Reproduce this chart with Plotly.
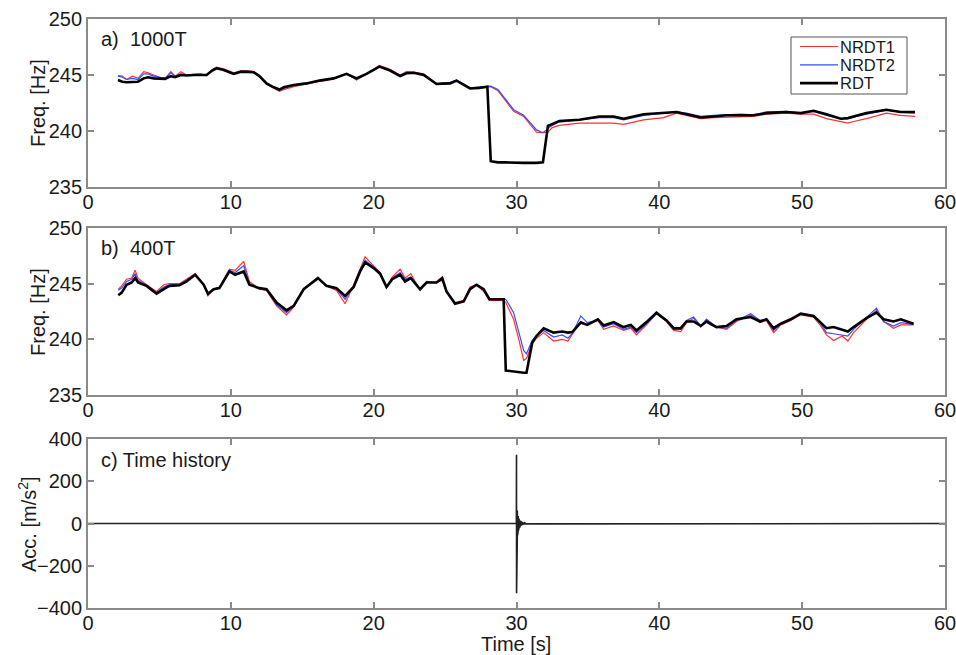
import plotly.graph_objects as go

# ---------------- data ----------------
series_names = ["NRDT1", "NRDT2", "RDT"]
series_colors = ["#ff3030", "#3050ff", "#000000"]
series_widths = [1.2, 1.2, 2.6]

# a) 1000T
t_a = [2.1, 2.4, 2.7, 3.1, 3.5, 3.9, 4.2, 4.6, 5.0, 5.4, 5.8, 6.1, 6.5, 6.9, 7.4, 7.9,
       8.3, 8.7, 9.0, 9.5, 10.0, 10.2, 10.7, 11.1, 11.6, 12.0, 12.5, 13.0, 13.4, 13.7,
       14.4, 15.3, 16.2, 17.2, 18.1, 18.8, 19.5, 20.4, 21.15, 21.85, 22.3, 22.8, 23.5,
       24.4, 25.35, 25.8, 26.75, 27.4, 27.96, 28.2, 28.7, 29.2, 29.8, 30.5, 31.4, 31.85,
       32.2, 32.5, 33.0, 34.4, 35.8, 36.8, 37.5, 38.9, 40.3, 41.2, 41.9, 42.9, 43.8,
       44.7, 45.7, 46.6, 47.5, 48.9, 49.9, 50.8, 51.7, 52.7, 53.2, 53.6, 54.5, 55.9,
       56.9, 57.9]
nrdt1_a = [244.95, 244.9, 244.6, 244.9, 244.7, 245.3, 245.2, 245.0, 244.8, 244.7, 245.3,
           244.9, 245.3, 245.0, 245.05, 245.1, 244.95, 245.5, 245.7, 245.55, 245.3, 245.2,
           245.35, 245.4, 245.3, 244.9, 244.2, 243.8, 243.55, 243.7, 243.95, 244.2, 244.4,
           244.65, 245.15, 244.55, 245.1, 245.85, 245.5, 245.0, 245.3, 245.25, 245.1,
           244.25, 244.35, 244.55, 243.85, 243.9, 243.9, 243.95, 243.6, 242.8, 241.75,
           241.3, 239.9, 239.85, 239.9, 240.3, 240.5, 240.7, 240.7, 240.7, 240.6, 241.0,
           241.2, 241.6, 241.4, 241.1, 241.2, 241.25, 241.3, 241.3, 241.5, 241.6, 241.5,
           241.5, 241.1, 240.8, 240.7, 240.85, 241.1, 241.6, 241.4, 241.3]
nrdt2_a = [244.9, 244.8, 244.6, 244.7, 244.6, 245.1, 245.1, 244.9, 244.8, 244.7, 245.2,
           244.9, 245.1, 245.0, 245.05, 245.05, 244.95, 245.45, 245.65, 245.5, 245.25,
           245.15, 245.3, 245.35, 245.3, 244.9, 244.2, 243.85, 243.6, 243.8, 244.05,
           244.25, 244.5, 244.7, 245.1, 244.6, 245.1, 245.8, 245.45, 244.95, 245.25, 245.2,
           245.05, 244.2, 244.35, 244.55, 243.85, 243.9, 243.95, 244.0, 243.7, 242.9,
           241.9, 241.4, 240.1, 239.85, 240.2, 240.5, 240.8, 241.0, 241.2, 241.2, 241.0,
           241.4, 241.55, 241.7, 241.6, 241.3, 241.4, 241.45, 241.5, 241.45, 241.7,
           241.75, 241.6, 241.75, 241.4, 241.1, 241.1, 241.25, 241.5, 241.85, 241.65,
           241.6]
rdt_a = [244.55, 244.4, 244.35, 244.4, 244.4, 244.7, 244.8, 244.7, 244.7, 244.65, 244.9,
         244.8, 245.0, 244.95, 245.0, 245.0, 245.0, 245.4, 245.6, 245.45, 245.2, 245.1,
         245.3, 245.3, 245.25, 244.9, 244.25, 243.9, 243.7, 243.9, 244.1, 244.25, 244.5,
         244.7, 245.1, 244.7, 245.1, 245.75, 245.4, 244.9, 245.15, 245.2, 245.0, 244.2,
         244.25, 244.5, 243.8, 243.85, 243.95, 237.3, 237.2, 237.2, 237.15, 237.15,
         237.15, 237.2, 240.45, 240.6, 240.9, 241.0, 241.3, 241.3, 241.1, 241.5, 241.6,
         241.7, 241.5, 241.2, 241.3, 241.4, 241.4, 241.4, 241.6, 241.7, 241.6, 241.8,
         241.5, 241.1, 241.15, 241.3, 241.6, 241.9, 241.7, 241.7]

# b) 400T
t_b = [2.12, 2.36, 2.7, 3.06, 3.3, 3.5, 4.1, 4.8, 5.3, 5.7, 6.4, 6.9, 7.5, 8.1, 8.4, 8.8,
       9.2, 9.9, 10.3, 10.9, 11.3, 12.0, 12.5, 13.2, 13.9, 14.4, 15.1, 16.1, 16.7, 17.4,
       18.0, 18.6, 19.05, 19.4, 20.0, 20.45, 20.9, 21.3, 21.85, 22.2, 22.6, 23.25, 23.7,
       24.4, 24.8, 25.1, 25.7, 26.3, 26.75, 27.2, 27.7, 28.1, 28.7, 29.1, 29.25, 29.8,
       30.2, 30.5, 30.7, 31.1, 31.4, 31.9, 32.6, 33.2, 33.6, 33.9, 34.5, 34.95, 35.7,
       36.1, 36.8, 37.5, 38.0, 38.4, 39.1, 39.8, 40.5, 41.0, 41.5, 41.9, 42.4, 42.9,
       43.3, 44.0, 44.7, 45.4, 46.4, 47.05, 47.5, 48.0, 48.5, 49.2, 49.9, 50.8, 51.3,
       51.7, 52.2, 52.8, 53.2, 53.6, 54.5, 55.2, 55.7, 56.4, 56.9, 57.8]
nrdt1_b = [244.5, 244.8, 245.4, 245.5, 246.2, 245.5, 244.9, 244.3, 244.9, 245.0, 245.0,
           245.4, 245.9, 244.9, 243.9, 244.5, 244.7, 246.3, 246.2, 247.0, 245.2, 244.5,
           244.4, 243.0, 242.2, 242.9, 244.5, 245.6, 244.8, 244.4, 243.2, 244.9, 246.3,
           247.4, 246.6, 246.0, 244.7, 245.6, 246.3, 245.5, 245.9, 244.4, 245.2, 245.1,
           245.3, 244.2, 243.3, 243.5, 244.7, 244.9, 244.3, 243.5, 243.5, 243.5, 243.3,
           241.8, 239.8, 238.1, 238.3, 239.6, 240.1, 240.6, 239.85, 240.0, 239.85, 240.4,
           241.6, 241.3, 241.7, 240.9, 241.2, 240.8, 241.0, 240.4, 241.3, 242.3, 241.6,
           240.8, 240.7, 241.5, 241.9, 241.1, 241.8, 241.1, 240.9, 241.6, 242.2, 241.5,
           241.7, 240.6, 241.3, 241.7, 242.2, 242.0, 241.2, 240.4, 239.9, 240.3, 239.85,
           240.6, 241.8, 242.6, 241.6, 241.0, 241.3, 241.3]
nrdt2_b = [244.4, 244.6, 245.2, 245.4, 245.9, 245.3, 244.85, 244.2, 244.7, 244.9, 244.9,
           245.3, 245.85, 244.9, 244.0, 244.5, 244.65, 246.2, 246.0, 246.6, 245.0, 244.55,
           244.45, 243.1, 242.4, 243.0, 244.5, 245.55, 244.8, 244.5, 243.6, 244.8, 246.2,
           247.1, 246.5, 245.95, 244.7, 245.5, 246.0, 245.4, 245.6, 244.5, 245.15, 245.1,
           245.6, 244.3, 243.3, 243.4, 244.6, 244.9, 244.4, 243.6, 243.6, 243.6, 243.6,
           242.4, 240.4, 239.0, 238.7, 239.9, 240.3, 240.8, 240.2, 240.4, 240.1, 240.5,
           242.1, 241.5, 241.7, 241.1, 241.4, 240.9, 241.1, 240.6, 241.4, 242.3, 241.7,
           240.9, 240.9, 241.7, 242.0, 241.2, 241.8, 241.1, 241.0, 241.7, 242.3, 241.7,
           241.8, 240.8, 241.4, 241.8, 242.3, 242.1, 241.4, 240.6, 240.5, 240.4, 240.3,
           240.9, 242.0, 242.8, 241.6, 241.2, 241.5, 241.35]
rdt_b = [243.95, 244.2, 244.9, 245.1, 245.5, 245.1, 244.8, 244.1, 244.5, 244.8, 244.85,
         245.2, 245.8, 244.9, 244.1, 244.5, 244.6, 246.1, 245.8, 246.1, 244.9, 244.6,
         244.5, 243.3, 242.6, 243.0, 244.5, 245.5, 244.8, 244.6, 243.9, 244.7, 246.1,
         246.9, 246.4, 245.9, 244.7, 245.4, 245.8, 245.2, 245.5, 244.5, 245.1, 245.1,
         245.5, 244.3, 243.2, 243.4, 244.5, 244.9, 244.5, 243.6, 243.6, 243.6, 237.2,
         237.1, 237.0, 237.0, 237.0, 239.7, 240.3, 241.0, 240.6, 240.7, 240.6, 240.65,
         241.5, 241.3, 241.8, 241.25, 241.55, 241.1, 241.3, 240.8, 241.55, 242.4, 241.7,
         241.0, 241.0, 241.6, 241.6, 241.2, 241.6, 241.1, 241.2, 241.8, 242.0, 241.6,
         241.8, 241.0, 241.4, 241.8, 242.3, 242.1, 241.5, 241.0, 241.1, 240.9, 240.7,
         241.1, 241.9, 242.4, 241.8, 241.6, 241.8, 241.4]

# c) acceleration time history (impact near t = 30 s with a decaying ring-down)
acc_t = [0.0, 29.99, 30.0, 30.005, 30.01, 30.015, 30.02, 30.025, 30.03, 30.035, 30.04,
         30.045, 30.05, 30.055, 30.06, 30.07, 30.08, 30.09, 30.10, 30.11, 30.12, 30.13,
         30.14, 30.16, 30.18, 30.20, 30.22, 30.24, 30.27, 30.30, 30.33, 30.36, 30.40,
         30.44, 30.48, 30.53, 30.58, 30.65, 60.0]
acc_v = [0.0, 0.0, 325.0, -330.0, 150.0, -140.0, 115.0, -105.0, 95.0, -90.0, 82.0,
         -78.0, 72.0, -68.0, 62.0, -58.0, 52.0, -48.0, 44.0, -40.0, 36.0, -33.0,
         30.0, -27.0, 24.0, -21.0, 18.0, -16.0, 14.0, -12.0, 10.0, -9.0, 7.0,
         -6.0, 5.0, -4.0, 3.0, -2.0, 0.0]

x_ticks = [0, 10, 20, 30, 40, 50, 60]
freq_ticks = [235, 240, 245, 250]
acc_ticks = [-400, -200, 0, 200, 400]

# ---------------- layout helpers ----------------
W, H = 956, 655
FONT = "Liberation Sans, Arial, Helvetica, sans-serif"
TXT = "#1a1a1a"


def px(x):
    return x / W


def py(y):
    return 1 - y / H


fig = go.Figure()

panels = [
    (t_a, [nrdt1_a, nrdt2_a, rdt_a], "x", "y"),
    (t_b, [nrdt1_b, nrdt2_b, rdt_b], "x2", "y2"),
]
for t, vals, xa, ya in panels:
    for name, color, width, v in zip(series_names, series_colors, series_widths, vals):
        fig.add_trace(go.Scatter(x=t, y=v, mode="lines", name=name, showlegend=False,
                                 line=dict(color=color, width=width), xaxis=xa, yaxis=ya))

fig.add_trace(go.Scatter(x=acc_t, y=acc_v, mode="lines", showlegend=False,
                         line=dict(color="#222222", width=1.6), xaxis="x3", yaxis="y3"))

frame = "#8a8a8a"
common_axis = dict(showline=True, linecolor=frame, linewidth=1.8, mirror="allticks",
                   ticks="inside", ticklen=6, tickwidth=1.5, tickcolor=frame,
                   showgrid=False, zeroline=False, automargin=False,
                   ticklabeloverflow="allow",
                   tickfont=dict(family=FONT, size=20, color=TXT))

x_dom = [px(88), px(945)]
ydoms = [[py(187), py(19)], [py(395), py(228)], [py(608), py(439)]]

layout = dict(
    width=W, height=H, margin=dict(l=0, r=0, t=0, b=0),
    paper_bgcolor="white", plot_bgcolor="white",
    font=dict(family=FONT, size=20, color=TXT),
    showlegend=False,
)
for i, (yd, yr, yt) in enumerate(zip(ydoms,
                                      [[235, 250], [235, 250], [-400, 400]],
                                      [freq_ticks, freq_ticks, acc_ticks])):
    sfx = "" if i == 0 else str(i + 1)
    layout["xaxis" + sfx] = dict(domain=x_dom, range=[0, 60], tickvals=x_ticks,
                                 anchor="y" + sfx, ticklabelstandoff=-4,
                                 **common_axis)
    layout["yaxis" + sfx] = dict(domain=yd, range=yr, tickvals=yt,
                                 anchor="x" + sfx, **common_axis)
fig.update_layout(**layout)

# axis titles and panel captions
titles = [
    (38, 103, "Freq. [Hz]", -90),
    (38, 312, "Freq. [Hz]", -90),
    (27, 524, "Acc. [m/s<sup>2</sup>]", -90),
    (516, 644, "Time [s]", 0),
]
for x, y, text, ang in titles:
    fig.add_annotation(x=px(x), y=py(y), xref="paper", yref="paper", text=text,
                       textangle=ang, showarrow=False,
                       xanchor="center", yanchor="middle",
                       font=dict(family=FONT, size=20, color=TXT))

captions = [("a)  1000T", 39), ("b)  400T", 248), ("c) Time history", 460)]
for text, yy in captions:
    fig.add_annotation(x=px(99), y=py(yy), xref="paper", yref="paper", text=text,
                       showarrow=False, xanchor="left", yanchor="middle",
                       font=dict(family=FONT, size=20, color=TXT))

# legend box in panel a
fig.add_shape(type="rect", xref="paper", yref="paper",
              x0=px(791), x1=px(907), y0=py(94), y1=py(37),
              line=dict(color="#555555", width=1), fillcolor="white", layer="above")
for k, (name, color, width) in enumerate(zip(series_names, series_colors, series_widths)):
    yy = 46.5 + k * 18.3
    fig.add_shape(type="line", xref="paper", yref="paper",
                  x0=px(800), x1=px(838), y0=py(yy), y1=py(yy),
                  line=dict(color=color, width=width), layer="above")
    fig.add_annotation(x=px(838), y=py(yy), xref="paper", yref="paper", text=name,
                       showarrow=False, xanchor="left", yanchor="middle",
                       font=dict(family=FONT, size=16.5, color=TXT))

fig.write_html("out.html")
